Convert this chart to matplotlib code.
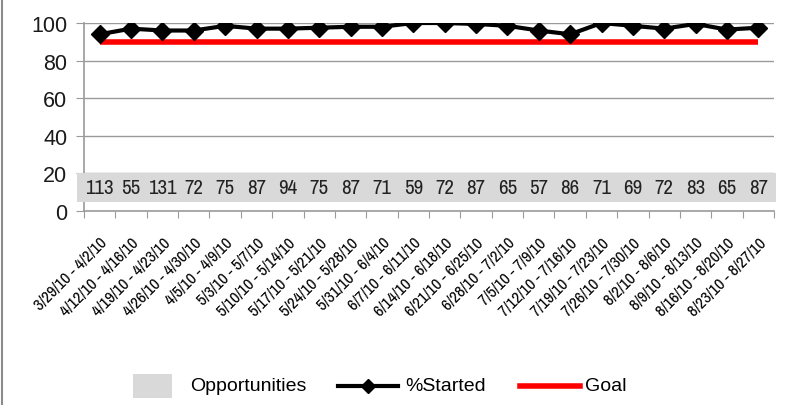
import matplotlib
matplotlib.use("Agg")
import matplotlib.pyplot as plt
from matplotlib import font_manager
from matplotlib.lines import Line2D
from matplotlib.patches import Rectangle
import numpy as np

# Weekly ranges, opportunities and % started
weeks = [
    "3/29/10 - 4/2/10", "4/12/10 - 4/16/10", "4/19/10 - 4/23/10", "4/26/10 - 4/30/10",
    "4/5/10 - 4/9/10", "5/3/10 - 5/7/10", "5/10/10 - 5/14/10", "5/17/10 - 5/21/10",
    "5/24/10 - 5/28/10", "5/31/10 - 6/4/10", "6/7/10 - 6/11/10", "6/14/10 - 6/18/10",
    "6/21/10 - 6/25/10", "6/28/10 - 7/2/10", "7/5/10 - 7/9/10", "7/12/10 - 7/16/10",
    "7/19/10 - 7/23/10", "7/26/10 - 7/30/10", "8/2/10 - 8/6/10", "8/9/10 - 8/13/10",
    "8/16/10 - 8/20/10", "8/23/10 - 8/27/10",
]
opportunities = [113, 55, 131, 72, 75, 87, 94, 75, 87, 71, 59,
                 72, 87, 65, 57, 86, 71, 69, 72, 83, 65, 87]
pct_started = [94, 97, 96, 96, 98.5, 97, 97, 97.5, 98, 98, 100,
               100, 99.5, 98.5, 96, 94, 100, 98.5, 97, 99.5, 96.5, 97.5]
goal = [90] * len(weeks)
y_ticks = [0, 20, 40, 60, 80, 100]

# pick a narrow face for the small labels if one is installed
entries = font_manager.fontManager.ttflist
narrow_props = None
for f in entries:
    if "narrow" in f.name.lower() and f.weight in (400, "normal", "regular") and f.style == "normal":
        narrow_props = font_manager.FontProperties(fname=f.fname)
        break
if narrow_props is None:
    for f in entries:
        if f.stretch in ("condensed", "semi-condensed") and f.style == "normal" and f.weight in (400, "normal", "regular"):
            narrow_props = font_manager.FontProperties(fname=f.fname)
            break
if narrow_props is None:
    narrow_props = font_manager.FontProperties(family="Liberation Sans")
narrow_fname = narrow_props.get_file()

def narrow(size):
    p = font_manager.FontProperties(fname=narrow_fname) if narrow_fname else narrow_props.copy()
    p.set_size(size)
    return p

plt.rcParams["font.family"] = ["Liberation Sans", "DejaVu Sans"]

fig = plt.figure(figsize=(7.86, 4.06), dpi=100)
ax = fig.add_axes([84 / 786, 194 / 406, 690 / 786, 188 / 406])

x = np.arange(len(weeks))
ax.set_xlim(-0.5, len(weeks) - 0.5)
ax.set_ylim(0, 100)

grid_c = "#9a9a9a"
for v in y_ticks[1:]:
    ax.axhline(v, color=grid_c, lw=1.0, zorder=1)

ax.plot(x, goal, color="#ff0000", lw=4, solid_capstyle="butt", zorder=3)
ax.plot(x, pct_started, color="black", lw=3, marker="D", markersize=9.5,
        markerfacecolor="black", markeredgecolor="black", zorder=4)

# opportunities strip with counts
band = Rectangle((-0.72, 4.8), len(weeks) + 0.28, 15.4, facecolor="#d9d9d9",
                 edgecolor="none", transform=ax.transData, clip_on=False, zorder=5)
ax.add_patch(band)
for xi, n in zip(x, opportunities):
    ax.text(xi, 12.4, str(n), ha="center", va="center", fontproperties=narrow(15),
            color="#222222", zorder=6)

for s in ["top", "right"]:
    ax.spines[s].set_visible(False)
for s in ["left", "bottom"]:
    ax.spines[s].set_color(grid_c)
    ax.spines[s].set_linewidth(1.2)

ax.set_yticks(y_ticks)
ax.set_yticklabels([str(v) for v in y_ticks], fontsize=15.5, color="#1a1a1a")
ax.tick_params(axis="y", length=6, color=grid_c, pad=6)

ax.set_xticks(np.arange(-0.5, len(weeks), 1.0), minor=False)
ax.set_xticklabels([])
ax.tick_params(axis="x", which="major", length=5, color=grid_c, direction="out")
ax.set_xticks(x, minor=True)
ax.set_xticklabels(weeks, minor=True, rotation=45, ha="right", va="top",
                   rotation_mode="anchor", fontproperties=narrow(12))
ax.tick_params(axis="x", which="minor", length=0, pad=17)

# outer frame line on the left
fig.add_artist(Line2D([2 / 786, 2 / 786], [0, 1], color="#8c8c8c", lw=1.5,
                      transform=fig.transFigure))

# legend row
def fx(px):
    return px / 786

def fy(py):
    return 1 - py / 406

fig.add_artist(Rectangle((fx(133), fy(399)), 39 / 786, 24 / 406, facecolor="#d9d9d9",
                         edgecolor="none", transform=fig.transFigure))
fig.text(fx(190), fy(387), "Opportunities", fontsize=14, va="center", ha="left")
fig.add_artist(Line2D([fx(338), fx(368), fx(398)], [fy(387)] * 3, color="black", lw=3,
                      marker="D", markersize=7, markevery=[1], transform=fig.transFigure))
fig.text(fx(405), fy(387), "%Started", fontsize=14, va="center", ha="left")
fig.add_artist(Line2D([fx(520), fx(580)], [fy(387), fy(387)], color="#ff0000", lw=4,
                      transform=fig.transFigure))
fig.text(fx(585), fy(387), "Goal", fontsize=14, va="center", ha="left")

fig.savefig("out.png", dpi=100)
